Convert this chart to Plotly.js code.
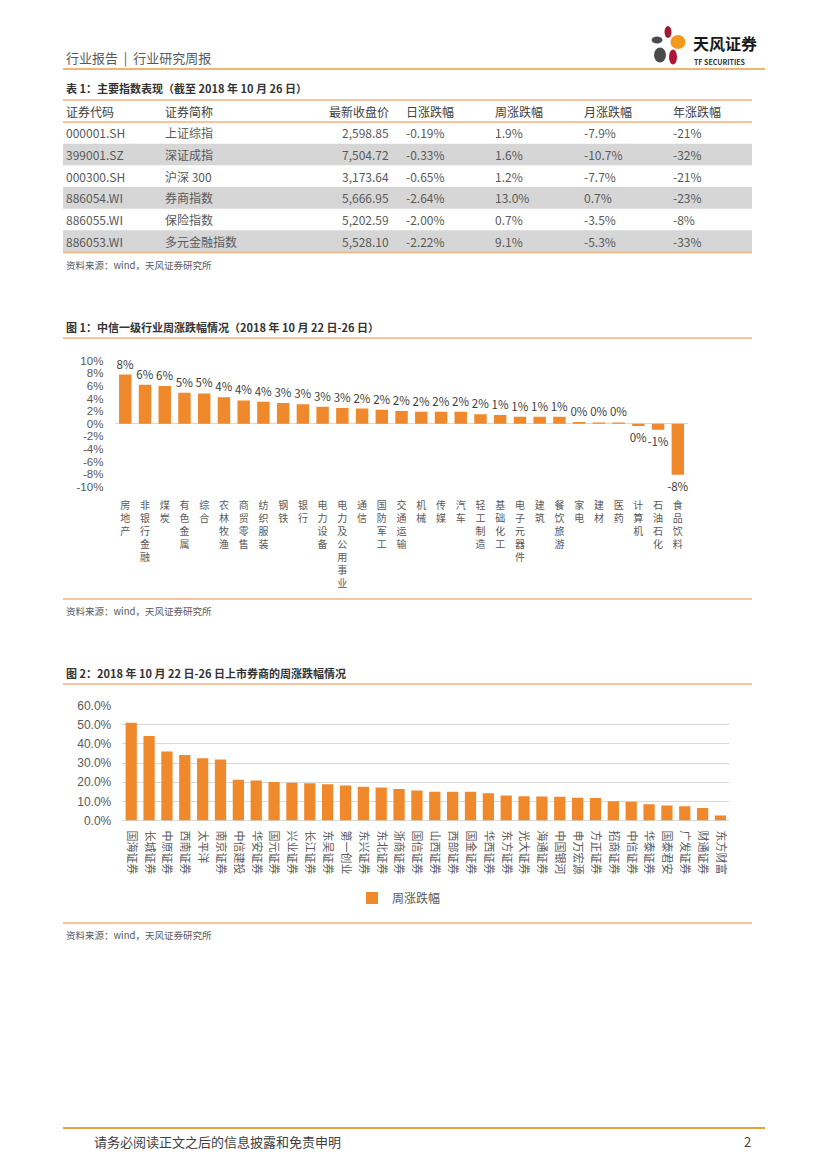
<!DOCTYPE html>
<html><head><meta charset="utf-8">
<script src="https://cdn.plot.ly/plotly-3.0.1.min.js"></script>
<style>html,body{margin:0;padding:0;background:#fff}#page{width:827px;height:1169px}</style>
</head><body><div id="page"></div>
<script>
// ---------- data ----------
const headerText = '行业报告&nbsp;&nbsp;|&nbsp;&nbsp;行业研究周报';
const logoName = '天风证券';
const logoSub = 'TF SECURITIES';
const tableTitle = '表 1：主要指数表现（截至 2018 年 10 月 26 日）';
const tableHeaders = ['证券代码','证券简称','最新收盘价','日涨跌幅','周涨跌幅','月涨跌幅','年涨跌幅'];
const codes = ['000001.SH','399001.SZ','000300.SH','886054.WI','886055.WI','886053.WI'];
const names = ['上证综指','深证成指','沪深 300','券商指数','保险指数','多元金融指数'];
const closes = ['2,598.85','7,504.72','3,173.64','5,666.95','5,202.59','5,528.10'];
const dayChg = ['-0.19%','-0.33%','-0.65%','-2.64%','-2.00%','-2.22%'];
const weekChg = ['1.9%','1.6%','1.2%','13.0%','0.7%','9.1%'];
const monthChg = ['-7.9%','-10.7%','-7.7%','0.7%','-3.5%','-5.3%'];
const yearChg = ['-21%','-32%','-21%','-23%','-8%','-33%'];
const sourceText = '资料来源：wind，天风证券研究所';

const fig1Title = '图 1：中信一级行业周涨跌幅情况（2018 年 10 月 22 日-26 日）';
const industries = ['房地产','非银行金融','煤炭','有色金属','综合','农林牧渔','商贸零售','纺织服装','钢铁','银行','电力设备','电力及公用事业','通信','国防军工','交通运输','机械','传媒','汽车','轻工制造','基础化工','电子元器件','建筑','餐饮旅游','家电','建材','医药','计算机','石油石化','食品饮料'];
const industryWeekly = [7.8,6.2,6.0,4.9,4.8,4.2,3.7,3.5,3.3,3.1,2.7,2.5,2.4,2.2,2.0,1.9,1.9,1.9,1.5,1.4,1.1,1.1,1.1,0.26,0.2,0.2,-0.37,-0.95,-8.1];
const fig1Ticks = [10,8,6,4,2,0,-2,-4,-6,-8,-10];

const fig2Title = '图 2：2018 年 10 月 22 日-26 日上市券商的周涨跌幅情况';
const brokers = ['国海证券','长城证券','中原证券','西南证券','太平洋','南京证券','中信建投','华安证券','国元证券','兴业证券','长江证券','东吴证券','第一创业','东兴证券','东北证券','浙商证券','国信证券','山西证券','西部证券','国金证券','华西证券','东方证券','光大证券','海通证券','中国银河','申万宏源','方正证券','招商证券','中信证券','华泰证券','国泰君安','广发证券','财通证券','东方财富'];
const brokerWeekly = [51.1,44.1,36.1,34.2,32.6,31.9,21.3,20.9,20.1,19.7,19.5,19.0,18.3,17.6,17.3,16.4,15.7,15.0,15.0,15.0,14.3,13.1,12.7,12.6,12.4,11.9,11.7,10.1,9.8,8.5,7.8,7.5,6.5,2.6];
const seriesName = '周涨跌幅';
const footerText = '请务必阅读正文之后的信息披露和免责申明';
const pageNo = '2';

// ---------- layout helpers ----------
const W = 827, H = 1169;
const px = x => x / W;
const py = y => 1 - y / H;
const FONT = 'Noto Sans CJK SC, Noto Sans, sans-serif';
const LATIN = 'Liberation Sans, Arial, sans-serif';
const ORANGE = '#F0892B';
const LIGHTOR = '#F4B183';
const GRAY = '#595959';

const annotations = [];
function ann(text, x, y, size, color, anchor, extra) {
  annotations.push(Object.assign({
    text: text, xref: 'paper', yref: 'paper', x: px(x), y: py(y),
    xanchor: anchor || 'left', yanchor: 'middle', showarrow: false,
    borderpad: 0, font: {family: FONT, size: size, color: color}
  }, extra || {}));
}
const shapes = [];
function hline(y, x0, x1, color, width) {
  shapes.push({type: 'line', xref: 'paper', yref: 'paper', x0: px(x0), x1: px(x1), y0: py(y), y1: py(y), line: {color: color, width: width}});
}
function rect(x0, y0, x1, y1, color) {
  shapes.push({type: 'rect', xref: 'paper', yref: 'paper', x0: px(x0), x1: px(x1), y0: py(y0), y1: py(y1), fillcolor: color, line: {width: 0}, layer: 'below'});
}
function ell(cx, cy, w, h, color) {
  shapes.push({type: 'circle', xref: 'paper', yref: 'paper', x0: px(cx - w/2), x1: px(cx + w/2), y0: py(cy - h/2), y1: py(cy + h/2), fillcolor: color, line: {width: 0}});
}

// header
ann(headerText, 65, 57, 13, GRAY);
hline(69, 63, 765, '#EE9A45', 1.5);
ell(668, 32, 7, 12, '#A3182F');
ell(657, 40, 11, 7, '#4B4B4B');
ell(678, 42, 15, 14, '#F39A1E');
ell(660, 55, 12, 15, '#4B4B4B');
ell(673, 57, 8, 15, '#B01539');
ann('<b>' + logoName + '</b>', 692, 43, 16, '#1a1a1a');
ann('<b>' + logoSub + '</b>', 693, 62, 7, '#333333');

// table
ann('<b>' + tableTitle + '</b>', 65, 88, 11, '#333333');
const tableL = 63, tableR = 752;
hline(100, tableL, tableR, LIGHTOR, 1.5);
hline(122, tableL, tableR, LIGHTOR, 1.5);
hline(252.5, tableL, tableR, LIGHTOR, 1.5);
const colX = [65, 164, 390, 405, 494, 583, 672];
const colAnchor = ['left','left','right','left','left','left','left'];
tableHeaders.forEach((h, j) => ann(h, colX[j], 111, 12, '#404040', colAnchor[j]));
const rowH = 130 / 6;
const cols = [codes, names, closes, dayChg, weekChg, monthChg, yearChg];
codes.forEach((c, i) => {
  const top = 122 + i * rowH;
  if (i % 2 === 1) rect(tableL, top, tableR, top + rowH, '#D6D6D6');
  cols.forEach((col, j) => ann(col[i], colX[j], top + rowH / 2, 12, GRAY, colAnchor[j]));
});
ann(sourceText, 65, 265, 9.5, GRAY);

// figure 1 frame
ann('<b>' + fig1Title + '</b>', 65, 327, 11, '#333333');
hline(338, tableL, tableR, LIGHTOR, 1.5);
hline(599, tableL, tableR, LIGHTOR, 1.5);
ann(sourceText, 65, 611, 9.5, GRAY);

// figure 2 frame
ann('<b>' + fig2Title + '</b>', 65, 673, 11, '#333333');
hline(684, tableL, tableR, LIGHTOR, 1.5);
hline(923, tableL, tableR, LIGHTOR, 1.5);
ann(sourceText, 65, 935, 9.5, GRAY);

// footer
hline(1128, 63, 765, '#E8A33D', 2);
ann(footerText, 93, 1141, 13, '#404040');
ann(pageNo, 752, 1141, 13, '#404040', 'right');

// ---------- traces ----------
const trace1 = {
  type: 'bar', x: industries, y: industryWeekly, xaxis: 'x', yaxis: 'y',
  marker: {color: ORANGE}, showlegend: false,
  text: industryWeekly.map(v => `${Math.round(v)}%`),
  textposition: 'outside', constraintext: 'none', cliponaxis: false,
  textfont: {family: FONT, size: 11.5, color: '#404040'},
  hoverinfo: 'x+y'
};
const trace2 = {
  type: 'bar', x: brokers, y: brokerWeekly, xaxis: 'x2', yaxis: 'y2',
  name: seriesName, marker: {color: ORANGE}, showlegend: true,
  hoverinfo: 'x+y'
};

const layout = {
  width: W, height: H, margin: {l: 0, r: 0, t: 0, b: 0},
  paper_bgcolor: '#ffffff', plot_bgcolor: 'rgba(0,0,0,0)',
  font: {family: FONT, color: GRAY},
  bargap: 0.37,
  shapes: shapes, annotations: annotations,
  xaxis: {
    domain: [px(115.4), px(687.7)], anchor: 'y', type: 'category',
    tickmode: 'array', tickvals: industries,
    ticktext: industries.map(s => s.split('').join('<br>')),
    tickangle: 0, showgrid: false, showline: false, zeroline: false, ticks: '',
    tickfont: {family: FONT, size: 10, color: GRAY}, ticklabelstandoff: 11,
    fixedrange: true
  },
  yaxis: {
    domain: [py(486.7), py(360.7)], anchor: 'x', range: [-10, 10],
    tickmode: 'array', tickvals: fig1Ticks, ticktext: fig1Ticks.map(v => v + '%'),
    showgrid: false, showline: false, zeroline: true, zerolinecolor: '#D9D9D9', zerolinewidth: 1,
    ticks: '', tickfont: {family: LATIN, size: 11.5, color: GRAY}, ticklabelstandoff: 11,
    fixedrange: true
  },
  xaxis2: {
    domain: [px(122.3), px(729.4)], anchor: 'y2', type: 'category',
    tickangle: 90, showgrid: false, showline: false, zeroline: false, ticks: '',
    tickfont: {family: FONT, size: 11, color: GRAY}, ticklabelstandoff: 9,
    fixedrange: true
  },
  yaxis2: {
    domain: [py(820.5), py(705.7)], anchor: 'x2', range: [0, 60], dtick: 10,
    tickformat: '.1f', ticksuffix: '%', showgrid: true, gridcolor: '#D9D9D9', gridwidth: 1,
    showline: false, zeroline: true, zerolinecolor: '#D9D9D9', ticks: '',
    tickfont: {family: LATIN, size: 12, color: GRAY}, ticklabelstandoff: 10,
    fixedrange: true
  },
  legend: {
    orientation: 'h', x: px(352), y: py(898), xanchor: 'left', yanchor: 'middle',
    font: {family: FONT, size: 12, color: GRAY}, bgcolor: 'rgba(0,0,0,0)'
  }
};

Plotly.newPlot('page', [trace1, trace2], layout, {staticPlot: true, displayModeBar: false});
</script>
</body></html>
